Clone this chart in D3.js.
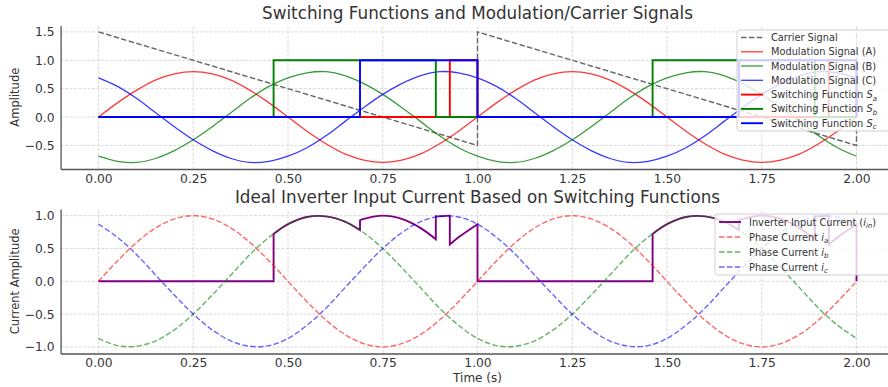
<!DOCTYPE html>
<html>
<head>
<meta charset="utf-8">
<script src="https://cdnjs.cloudflare.com/ajax/libs/d3/7.8.5/d3.min.js"></script>
<style>
  body { margin: 0; background: #fff; }
  text { font-family: "DejaVu Sans", sans-serif; fill: #333; }
</style>
</head>
<body>
<div class="chart"></div>
<script>
// ---- data ----
// sample times (s) for the smooth curves
var time = [0, 0.05, 0.1, 0.15, 0.2, 0.25, 0.3, 0.35, 0.4, 0.45, 0.5, 0.55, 0.6, 0.65, 0.7, 0.75, 0.8, 0.85, 0.9, 0.95,
  1, 1.05, 1.1, 1.15, 1.2, 1.25, 1.3, 1.35, 1.4, 1.45, 1.5, 1.55, 1.6, 1.65, 1.7, 1.75, 1.8, 1.85, 1.9, 1.95, 2];

// modulation signals
var modA = [0, 0.25, 0.47, 0.65, 0.76, 0.8, 0.76, 0.65, 0.47, 0.25, 0, -0.25, -0.47, -0.65, -0.76, -0.8, -0.76, -0.65, -0.47, -0.25,
  0, 0.25, 0.47, 0.65, 0.76, 0.8, 0.76, 0.65, 0.47, 0.25, 0, -0.25, -0.47, -0.65, -0.76, -0.8, -0.76, -0.65, -0.47, -0.25, 0];
var modB = [-0.69, -0.78, -0.8, -0.73, -0.59, -0.4, -0.17, 0.08, 0.33, 0.54, 0.69, 0.78, 0.8, 0.73, 0.59, 0.4, 0.17, -0.08, -0.33, -0.54,
  -0.69, -0.78, -0.8, -0.73, -0.59, -0.4, -0.17, 0.08, 0.33, 0.54, 0.69, 0.78, 0.8, 0.73, 0.59, 0.4, 0.17, -0.08, -0.33, -0.54, -0.69];
var modC = [0.69, 0.54, 0.33, 0.08, -0.17, -0.4, -0.59, -0.73, -0.8, -0.78, -0.69, -0.54, -0.33, -0.08, 0.17, 0.4, 0.59, 0.73, 0.8, 0.78,
  0.69, 0.54, 0.33, 0.08, -0.17, -0.4, -0.59, -0.73, -0.8, -0.78, -0.69, -0.54, -0.33, -0.08, 0.17, 0.4, 0.59, 0.73, 0.8, 0.78, 0.69];

// carrier (sawtooth)
var carrierT = [0, 1, 1, 2, 2];
var carrierV = [1.5, -0.5, 1.5, -0.5, 1.5];

// switching functions (a repeated time means a jump)
var saT = [0, 0.927, 0.927, 1, 1, 1.927, 1.927, 2, 2];
var saV = [0, 0, 1, 1, 0, 0, 1, 1, 0];
var sbT = [0, 0.462, 0.462, 0.89, 0.89, 1.462, 1.462, 1.89, 1.89, 2];
var sbV = [0, 0, 1, 1, 0, 0, 1, 1, 0, 0];
var scT = [0, 0.69, 0.69, 1, 1, 1.69, 1.69, 2, 2];
var scV = [0, 0, 1, 1, 0, 0, 1, 1, 0];

// phase currents
var ia = [0, 0.31, 0.59, 0.81, 0.95, 1, 0.95, 0.81, 0.59, 0.31, 0, -0.31, -0.59, -0.81, -0.95, -1, -0.95, -0.81, -0.59, -0.31,
  0, 0.31, 0.59, 0.81, 0.95, 1, 0.95, 0.81, 0.59, 0.31, 0, -0.31, -0.59, -0.81, -0.95, -1, -0.95, -0.81, -0.59, -0.31, 0];
var ib = [-0.87, -0.98, -0.99, -0.91, -0.74, -0.5, -0.21, 0.1, 0.41, 0.67, 0.87, 0.98, 0.99, 0.91, 0.74, 0.5, 0.21, -0.1, -0.41, -0.67,
  -0.87, -0.98, -0.99, -0.91, -0.74, -0.5, -0.21, 0.1, 0.41, 0.67, 0.87, 0.98, 0.99, 0.91, 0.74, 0.5, 0.21, -0.1, -0.41, -0.67, -0.87];
var ic = [0.87, 0.67, 0.41, 0.1, -0.21, -0.5, -0.74, -0.91, -0.99, -0.98, -0.87, -0.67, -0.41, -0.1, 0.21, 0.5, 0.74, 0.91, 0.99, 0.98,
  0.87, 0.67, 0.41, 0.1, -0.21, -0.5, -0.74, -0.91, -0.99, -0.98, -0.87, -0.67, -0.41, -0.1, 0.21, 0.5, 0.74, 0.91, 0.99, 0.98, 0.87];

// inverter input current
var iinT = [0, 0.462, 0.462, 0.5, 0.55, 0.6, 0.65, 0.69, 0.69, 0.7, 0.75, 0.8, 0.85, 0.89, 0.89, 0.9, 0.927, 0.927, 0.95, 1, 1,
  1.462, 1.462, 1.5, 1.55, 1.6, 1.65, 1.69, 1.69, 1.7, 1.75, 1.8, 1.85, 1.89, 1.89, 1.9, 1.927, 1.927, 1.95, 2, 2];
var iinV = [0, 0, 0.72, 0.87, 0.98, 0.99, 0.91, 0.78, 0.93, 0.95, 1, 0.95, 0.81, 0.64, 0.99, 0.99, 1, 0.56, 0.67, 0.87, 0,
  0, 0.72, 0.87, 0.98, 0.99, 0.91, 0.78, 0.93, 0.95, 1, 0.95, 0.81, 0.64, 0.99, 0.99, 1, 0.56, 0.67, 0.87, 0];

// ticks
var xTicks = [0, 0.25, 0.5, 0.75, 1, 1.25, 1.5, 1.75, 2];
var yTicksTop = [-0.5, 0, 0.5, 1, 1.5];
var yTicksBottom = [-1, -0.5, 0, 0.5, 1];

// legend labels: plain text, italic symbol, subscript, closing text
var topLabels = [
  ["Carrier Signal"], ["Modulation Signal (A)"], ["Modulation Signal (B)"], ["Modulation Signal (C)"],
  ["Switching Function ", "S", "a"], ["Switching Function ", "S", "b"], ["Switching Function ", "S", "c"]
];
var bottomLabels = [
  ["Inverter Input Current (", "i", "in", ")"], ["Phase Current ", "i", "a"],
  ["Phase Current ", "i", "b"], ["Phase Current ", "i", "c"]
];

// ---- drawing ----
var svgWidth = 888, svgHeight = 387;

var svg = d3.select(".chart").append("svg")
  .attr("width", svgWidth)
  .attr("height", svgHeight);

var x = d3.scaleLinear().domain([-0.1, 2.1]).range([60.6, 894.4]);
var yTop = d3.scaleLinear().domain([-0.915, 1.615]).range([169, 25.4]);
var yBot = d3.scaleLinear().domain([-1.1, 1.1]).range([353.5, 209.1]);

// builds one continuous path; repeated times split it into smooth pieces joined by jumps
function pathFor(ts, vs, y, curve) {
  var segs = [], cur = [];
  ts.forEach(function(t, i) {
    if (i > 0 && t === ts[i - 1]) { segs.push(cur); cur = []; }
    cur.push([x(t), y(vs[i])]);
  });
  segs.push(cur);
  var line = d3.line().curve(curve);
  return segs.map(function(s, i) {
    var d = s.length > 1 ? line(s) : "M" + s[0][0] + "," + s[0][1];
    return i ? d.replace(/^M/, "L") : d;
  }).join("");
}

function drawFrame(y, yTicks, title, ylabel) {
  var g = svg.append("g");
  var r = y.range();

  // grid
  g.selectAll(".vgrid").data(xTicks).enter().append("line")
    .attr("x1", d => x(d)).attr("x2", d => x(d))
    .attr("y1", r[0]).attr("y2", r[1])
    .attr("stroke", "#cfcfcf").attr("stroke-width", 0.8).attr("stroke-dasharray", "3,1.5");
  g.selectAll(".hgrid").data(yTicks).enter().append("line")
    .attr("x1", x.range()[0]).attr("x2", x.range()[1])
    .attr("y1", d => y(d)).attr("y2", d => y(d))
    .attr("stroke", "#cfcfcf").attr("stroke-width", 0.8).attr("stroke-dasharray", "3,1.5");

  // axes
  var xAxis = g.append("g")
    .attr("transform", `translate(0, ${r[0]})`)
    .call(d3.axisBottom(x).tickValues(xTicks).tickFormat(d3.format(".2f")).tickSize(0).tickPadding(5));
  var yAxis = g.append("g")
    .attr("transform", `translate(${x.range()[0]}, 0)`)
    .call(d3.axisLeft(y).tickValues(yTicks).tickFormat(d3.format(".1f")).tickSize(0).tickPadding(6));
  [xAxis, yAxis].forEach(function(a) {
    a.select(".domain").attr("stroke", "#555").attr("stroke-width", 1.3);
    a.selectAll("text").style("font-size", "12.3px").attr("fill", "#333");
  });

  g.append("text")
    .attr("x", (x.range()[0] + x.range()[1]) / 2)
    .attr("y", r[1] - 6)
    .attr("text-anchor", "middle")
    .style("font-size", "16.8px")
    .text(title);

  g.append("text")
    .attr("transform", `translate(19, ${(r[0] + r[1]) / 2}) rotate(-90)`)
    .attr("text-anchor", "middle")
    .style("font-size", "11.5px")
    .text(ylabel);
}

function drawSeries(g, ts, vs, y, st, curve) {
  g.append("path")
    .attr("d", pathFor(ts, vs, y, curve || d3.curveLinear))
    .attr("fill", "none")
    .attr("stroke", st.color)
    .attr("stroke-width", st.width)
    .attr("stroke-opacity", st.opacity || 1)
    .attr("stroke-dasharray", st.dash || null);
}

function drawLegend(labels, styles, bx, by, bh, rowY) {
  var g = svg.append("g");
  g.append("rect")
    .attr("x", bx).attr("y", by).attr("width", 200).attr("height", bh)
    .attr("rx", 3)
    .attr("fill", "#fff").attr("fill-opacity", 0.8)
    .attr("stroke", "#d0d0d0").attr("stroke-width", 1);
  labels.forEach(function(lab, i) {
    var st = styles[i], yy = rowY[i];
    g.append("line")
      .attr("x1", bx + 4).attr("x2", bx + 26)
      .attr("y1", yy).attr("y2", yy)
      .attr("stroke", st.color).attr("stroke-width", st.width)
      .attr("stroke-opacity", st.opacity || 1)
      .attr("stroke-dasharray", st.dash || null);
    var t = g.append("text")
      .attr("x", bx + 34).attr("y", yy + 3.5)
      .style("font-size", "9.8px");
    t.append("tspan").text(lab[0]);
    if (lab[1]) {
      t.append("tspan").style("font-style", "italic").text(lab[1]);
      t.append("tspan").attr("dy", 2.5).style("font-size", "7px").style("font-style", "italic").text(lab[2]);
    }
    if (lab[3]) t.append("tspan").attr("dy", -2.5).text(lab[3]);
  });
}

// styles
var carrierSt = { color: "#555", width: 1.4, opacity: 0.9, dash: "5.5,2.4" };
var modSt = [
  { color: "#ff0000", width: 1.3, opacity: 0.78 },
  { color: "#008000", width: 1.3, opacity: 0.78 },
  { color: "#0000ff", width: 1.3, opacity: 0.78 }
];
var swSt = [
  { color: "#ff0000", width: 1.9 },
  { color: "#008000", width: 1.9 },
  { color: "#0000ff", width: 1.9 }
];
var iinSt = { color: "#800080", width: 1.9 };
var phSt = [
  { color: "#ff0000", width: 1.4, opacity: 0.6, dash: "5.5,2.4" },
  { color: "#008000", width: 1.4, opacity: 0.6, dash: "5.5,2.4" },
  { color: "#0000ff", width: 1.4, opacity: 0.6, dash: "5.5,2.4" }
];

// top panel
drawFrame(yTop, yTicksTop, "Switching Functions and Modulation/Carrier Signals", "Amplitude");
var topG = svg.append("g");
drawSeries(topG, carrierT, carrierV, yTop, carrierSt);
drawSeries(topG, time, modA, yTop, modSt[0], d3.curveCatmullRom);
drawSeries(topG, time, modB, yTop, modSt[1], d3.curveCatmullRom);
drawSeries(topG, time, modC, yTop, modSt[2], d3.curveCatmullRom);
drawSeries(topG, saT, saV, yTop, swSt[0]);
drawSeries(topG, sbT, sbV, yTop, swSt[1]);
drawSeries(topG, scT, scV, yTop, swSt[2]);
drawLegend(topLabels, [carrierSt, modSt[0], modSt[1], modSt[2], swSt[0], swSt[1], swSt[2]],
  737, 30, 101, [37.5, 51.8, 66, 80.3, 94.6, 108.9, 123.2]);

// bottom panel
drawFrame(yBot, yTicksBottom, "Ideal Inverter Input Current Based on Switching Functions", "Current Amplitude");
var botG = svg.append("g");
drawSeries(botG, iinT, iinV, yBot, iinSt, d3.curveCatmullRom);
drawSeries(botG, time, ia, yBot, phSt[0], d3.curveCatmullRom);
drawSeries(botG, time, ib, yBot, phSt[1], d3.curveCatmullRom);
drawSeries(botG, time, ic, yBot, phSt[2], d3.curveCatmullRom);
drawLegend(bottomLabels, [iinSt, phSt[0], phSt[1], phSt[2]],
  715, 214, 61, [222, 237, 252, 267]);

// x label
svg.append("text")
  .attr("x", (x.range()[0] + x.range()[1]) / 2)
  .attr("y", 382)
  .attr("text-anchor", "middle")
  .style("font-size", "12px")
  .text("Time (s)");
</script>
</body>
</html>
